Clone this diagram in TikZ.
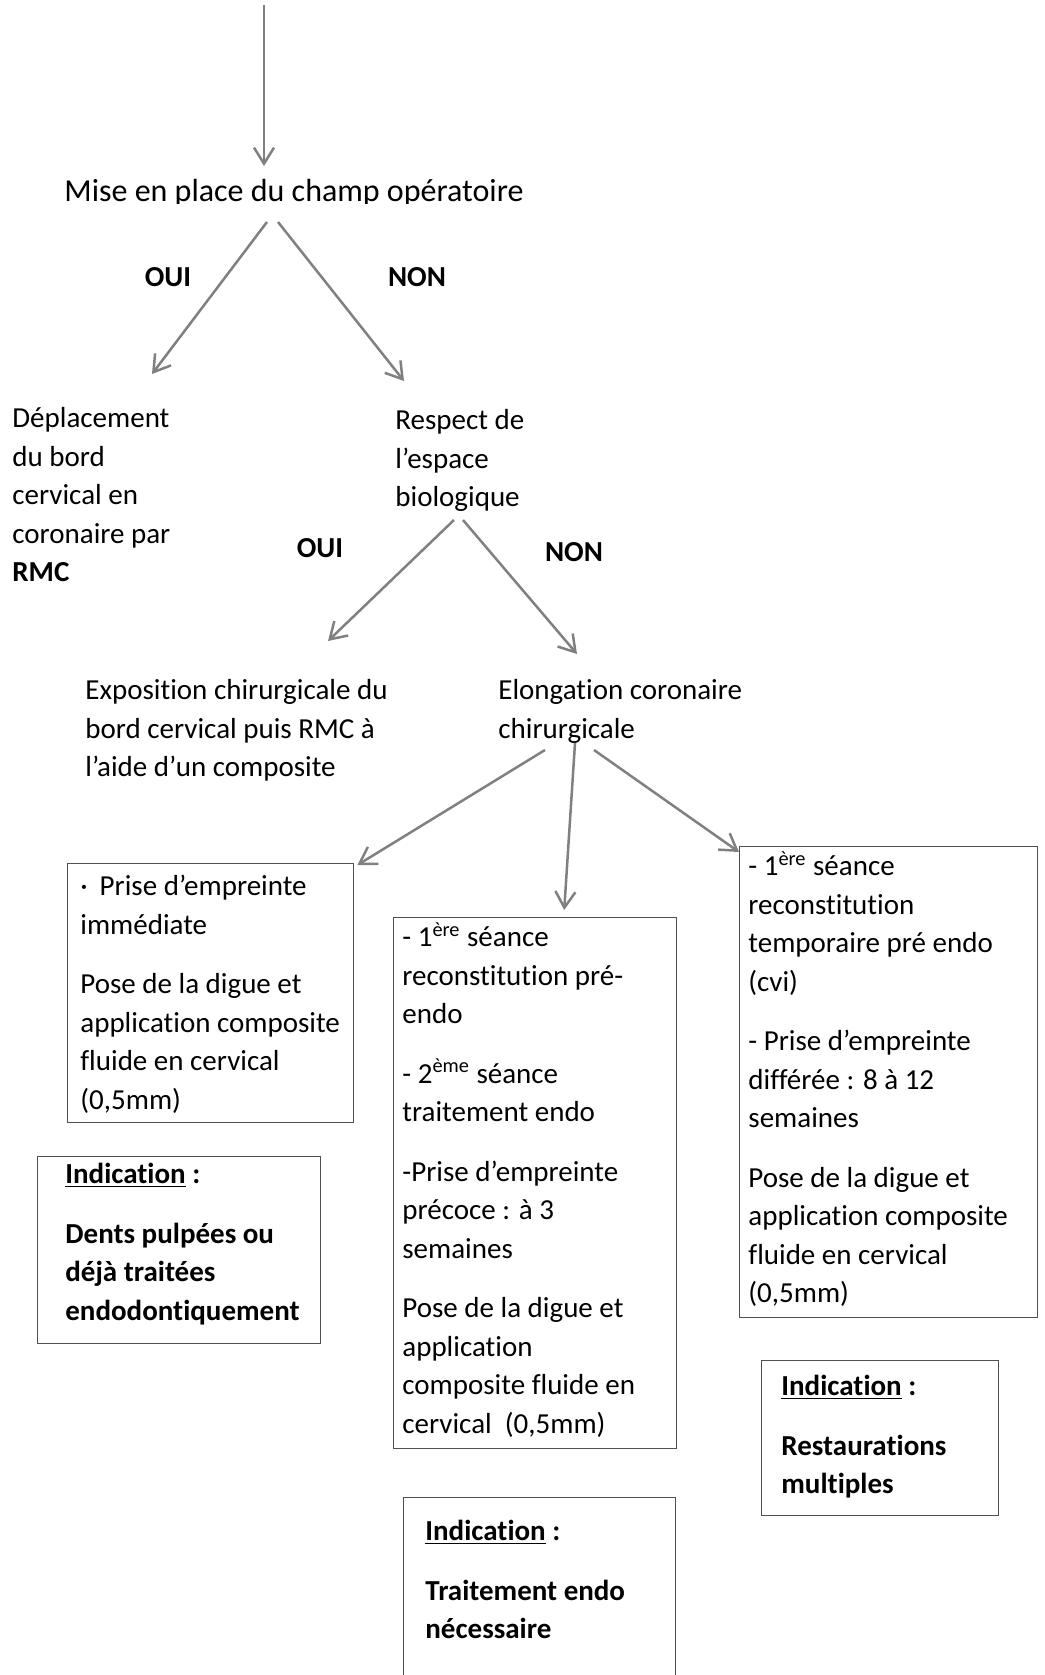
\documentclass[tikz,border=0pt]{standalone}
\usepackage{fontspec}
\setmainfont{Carlito}[Ligatures=CommonOff]
\usetikzlibrary{arrows.meta,calc}
\definecolor{flgris}{RGB}{128,128,128}
\definecolor{cadre}{RGB}{80,80,80}
\tikzset{
  txt/.style={anchor=north west,align=left,inner sep=0pt,font=\fontsize{14.5}{19.25}\selectfont,
    execute at begin node=\rule{0pt}{11pt}},
  gras/.style={txt,font=\bfseries\fontsize{14.5}{19.25}\selectfont},
  rep/.style={inner sep=0pt,font=\bfseries\fontsize{14.5}{17}\selectfont},
  fl/.style={draw=flgris,line width=1.25pt,-{Straight Barb[length=8pt,width=10pt]}},
  boite/.style={draw=cadre,line width=0.7pt,anchor=north west,inner sep=0pt}
}
\begin{document}
\begin{tikzpicture}[x=0.5pt,y=-0.5pt]
  \useasboundingbox (0,0) rectangle (1044,1675);
  \coordinate (depart) at (264,5);
  \begin{scope}
    \clip (0,150) rectangle (1044,203); %titre coupe en bas
    \node[txt,anchor=base west,font=\fontsize{16}{19}\selectfont] (titre) at (64,201) {Mise en place du champ opératoire};
  \end{scope}
  \node[txt] (dep) at (12,407) {Déplacement\\du bord\\cervical en\\coronaire par\\\textbf{RMC}};
  \node[txt] (resp) at (395,409) {Respect de\\l’espace\\biologique};
  \node[txt] (expo) at (85,679) {Exposition chirurgicale du\\bord cervical puis RMC à\\l’aide d’un composite};
  \node[txt] (elong) at (498,679) {Elongation coronaire\\chirurgicale};
  \node[rep] (oui1) at (168,277) {OUI};
  \node[rep] (non1) at (417,277) {NON};
  \node[rep] (oui2) at (320,548) {OUI};
  \node[rep] (non2) at (574,552) {NON};
  % boites
  \node[boite,minimum width=143pt,minimum height=129.5pt] (bA) at (67,863) {};
  \node[txt] (tA) at ($(bA.north west)+(13,12)$) {·\hspace{6pt}Prise d’empreinte\\immédiate\\[10.5pt]Pose de la digue et\\application composite\\fluide en cervical\\(0,5mm)};
  \node[boite,minimum width=141.5pt,minimum height=93.5pt] (bIA) at (37,1156) {};
  \node[gras] (tIA) at ($(bIA.north west)+(28,7)$) {\underline{Indication} :\\[10.5pt]Dents pulpées ou\\déjà traitées\\endodontiquement};
  \node[boite,minimum width=141.5pt,minimum height=265.5pt] (bB) at (393,917) {};
  \node[txt] (tB) at ($(bB.north west)+(9,5)$) {- 1\textsuperscript{ère} séance\\reconstitution pré-\\endo\\[10.5pt]- 2\textsuperscript{ème} séance\\traitement endo\\[10.5pt]-Prise d’empreinte\\précoce : à 3\\semaines\\[10.5pt]Pose de la digue et\\application\\composite fluide en\\cervical~~(0,5mm)};
  \node[boite,minimum width=136pt,minimum height=96.5pt] (bIB) at (403,1497) {};
  \node[gras] (tIB) at ($(bIB.north west)+(22,23)$) {\underline{Indication} :\\[10.5pt]Traitement endo\\nécessaire};
  \node[boite,minimum width=149pt,minimum height=235.5pt] (bC) at (739,846) {};
  \node[txt] (tC) at ($(bC.north west)+(9,5)$) {- 1\textsuperscript{ère} séance\\reconstitution\\temporaire pré endo\\(cvi)\\[10.5pt]- Prise d’empreinte\\différée : 8 à 12\\semaines\\[10.5pt]Pose de la digue et\\application composite\\fluide en cervical\\(0,5mm)};
  \node[boite,minimum width=118.5pt,minimum height=77.5pt] (bIC) at (761,1360) {};
  \node[gras] (tIC) at ($(bIC.north west)+(20,15)$) {\underline{Indication} :\\[10.5pt]Restaurations\\multiples};
  % fleches
  \draw[fl] (depart) -- ($(titre.base west)+(200,-35)$);
  \draw[fl] ($(titre.base west)+(203,21)$) -- ($(dep.north west)+(140,-33)$); %oui
  \draw[fl] ($(titre.base west)+(214,21)$) -- ($(resp.north west)+(9,-28)$); %non
  \draw[fl] ($(resp.north west)+(59,111)$) -- ($(expo.north west)+(243,-38)$); %oui
  \draw[fl] ($(resp.north west)+(68,111)$) -- ($(elong.north west)+(79,-25)$); %non
  \draw[fl] ($(elong.north west)+(47,71)$) -- ($(bA.north east)+(3,2)$);
  \draw[fl] ($(elong.north west)+(77,64)$) -- ($(bB.north)+(29,-7)$);
  \draw[fl] ($(elong.north west)+(96,71)$) -- ($(bC.north west)+(0,6)$);
\end{tikzpicture}
\end{document}
